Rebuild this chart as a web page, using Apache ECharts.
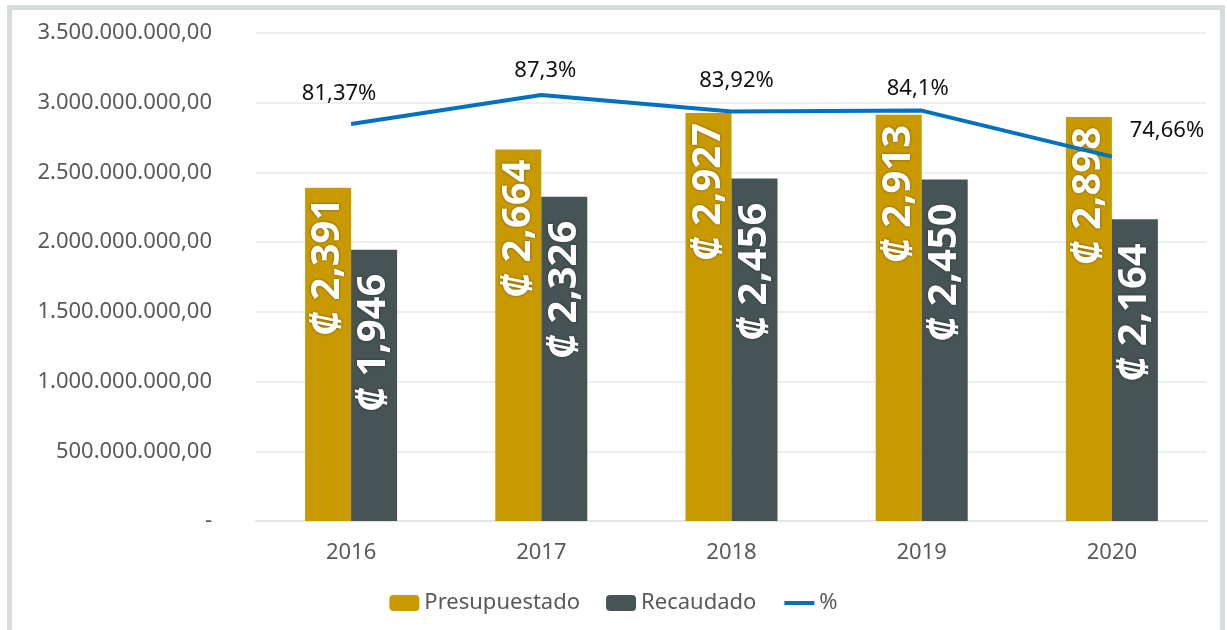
<!DOCTYPE html>
<html>
<head>
<meta charset="utf-8">
<script src="https://cdn.jsdelivr.net/npm/echarts@6/dist/echarts.min.js"></script>
<style>
  html, body { margin: 0; padding: 0; background: #fff; }
  #chart { width: 1227px; height: 630px; }
</style>
</head>
<body>
<div id="chart"></div>
<script>
  // datos (colones)
  var years = ['2016', '2017', '2018', '2019', '2020']
  var presupuestado = [2391000000, 2664000000, 2927000000, 2913000000, 2898000000]
  var recaudado = [1946000000, 2326000000, 2456000000, 2450000000, 2164000000]
  var porcentaje = [81.37, 87.3, 83.92, 84.1, 74.66]
  var pctLabels = ['81,37%', '87,3%', '83,92%', '84,1%', '74,66%']

  var font = 'Noto Sans'
  var gris = '#595959'

  function miles(n) {
    return String(n).replace(/\B(?=(\d{3})+(?!\d))/g, '.')
  }
  function yLabel(v) {
    if (v === 0) return '-'
    return miles(v) + ',00'
  }
  function barLabel(p) {
    var m = Math.round(p.value / 1000000)
    return '\u20A1 ' + String(m).replace(/\B(?=(\d{3})+(?!\d))/g, ',')
  }

  // posiciones de las etiquetas de %
  var pctOffsets = [[-12, -14], [4, -8], [5, -15], [-4, -6], [55, -10]]

  var chart = echarts.init(document.getElementById('chart'))

  var barLbl = {
    show: true,
    position: 'insideTop',
    rotate: 90,
    align: 'right',
    verticalAlign: 'middle',
    color: '#fff',
    fontFamily: font,
    fontWeight: 'bold',
    fontSize: 40,
    textShadowColor: 'rgba(0,0,0,0.45)',
    textShadowBlur: 3,
    formatter: barLabel
  }

  chart.setOption({
    animation: false,
    graphic: [{
      type: 'rect',
      shape: {x: 9.5, y: 7.5, width: 1213, height: 640},
      style: {fill: 'none', stroke: '#D6DBDB', lineWidth: 5},
      silent: true
    }],
    grid: {left: 256, right: 20, top: 33, bottom: 109},
    legend: {
      bottom: 11,
      left: 'center',
      itemWidth: 30,
      itemHeight: 16,
      itemGap: 26,
      textStyle: {color: gris, fontFamily: font, fontSize: 22},
      data: ['Presupuestado', 'Recaudado', {name: '%', itemStyle: {opacity: 0}, lineStyle: {width: 4}}]
    },
    xAxis: {
      type: 'category',
      data: years,
      axisTick: {show: false},
      axisLine: {lineStyle: {color: '#E2E6E6', width: 2}},
      axisLabel: {color: gris, fontFamily: font, fontSize: 22, margin: 21}
    },
    yAxis: [{
      type: 'value',
      min: 0,
      max: 3500000000,
      interval: 500000000,
      axisLine: {show: false},
      axisTick: {show: false},
      splitLine: {lineStyle: {color: '#ECEFEF', width: 2}},
      axisLabel: {color: gris, fontFamily: font, fontSize: 22, margin: 44, formatter: yLabel}
    }, {
      type: 'value',
      min: 0,
      max: 100,
      show: false,
      splitLine: {show: false}
    }],
    series: [{
      name: 'Presupuestado',
      type: 'bar',
      data: presupuestado,
      barWidth: 46,
      barGap: '0%',
      itemStyle: {color: '#C99A00'},
      label: Object.assign({}, barLbl, {distance: 10}),
      z: 2
    }, {
      name: 'Recaudado',
      type: 'bar',
      data: recaudado,
      barWidth: 46,
      barGap: '0%',
      itemStyle: {color: '#475456'},
      label: Object.assign({}, barLbl, {distance: 24}),
      z: 2
    }, {
      name: '%',
      type: 'line',
      yAxisIndex: 1,
      data: porcentaje.map(function (v, i) {
        return {
          value: v,
          label: {offset: pctOffsets[i], formatter: pctLabels[i]}
        }
      }),
      symbol: 'circle',
      symbolSize: 0,
      showSymbol: true,
      lineStyle: {color: '#0070C0', width: 4},
      itemStyle: {color: '#0070C0'},
      label: {
        show: true,
        position: 'top',
        color: '#111',
        fontFamily: font,
        fontSize: 22
      },
      z: 5
    }]
  })
</script>
</body>
</html>
